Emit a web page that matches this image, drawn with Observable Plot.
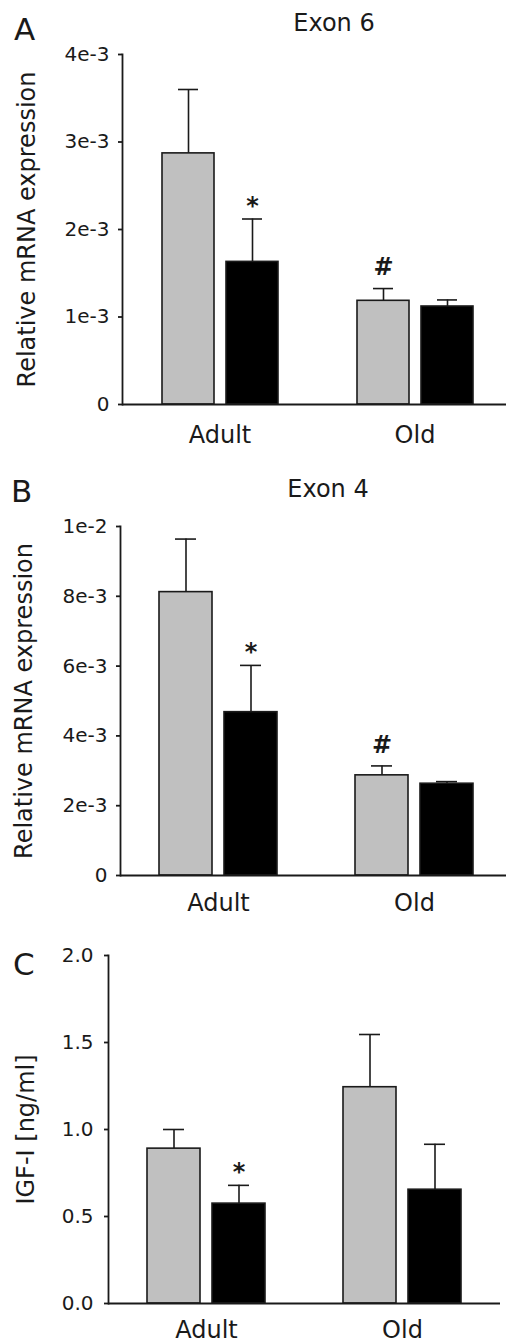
<!DOCTYPE html>
<html><head><meta charset="utf-8">
<script src="https://cdn.jsdelivr.net/npm/d3@7"></script>
<script src="https://cdn.jsdelivr.net/npm/@observablehq/plot@0.6"></script>
<style>
html,body{margin:0;padding:0;background:#fff;overflow:hidden;width:506px;height:1343px;}
.panel{position:relative;}
.panel svg{display:block;max-width:none !important;overflow:visible;}
.letter{position:absolute;font-family:"DejaVu Sans";font-size:31px;line-height:1;color:#1a1a1a;white-space:nowrap;}
.title{position:absolute;font-family:"DejaVu Sans";font-size:24px;line-height:1;color:#1a1a1a;transform:translateX(-50%);white-space:nowrap;}
g[aria-label="y-axis label"], g[aria-label="y-axis label"] text{font-size:24px !important;}
g[aria-label="y-axis tick label"], g[aria-label="y-axis tick label"] text{font-size:20px !important;}
g[aria-label="fx-axis tick label"], g[aria-label="fx-axis tick label"] text{font-size:24px !important;}
</style>
</head><body>
<div id="root"></div>
<script>
// ---- shared categories ----
const groups = ["Adult", "Old"];
const conditions = ["Control", "Treated"];
// bar order: Adult-Control, Adult-Treated, Old-Control, Old-Treated
const barGroups = ["Adult", "Adult", "Old", "Old"];
const barConditions = ["Control", "Treated", "Control", "Treated"];

// ---- Panel A: Exon 6 ----
const exon6Mean = [2.87e-3, 1.63e-3, 1.185e-3, 1.12e-3];
const exon6Sem  = [0.73e-3, 0.49e-3, 0.14e-3, 0.075e-3];
const exon6Sign = ["", "*", "#", ""];
const exon6Ticks = [0, 1e-3, 2e-3, 3e-3, 4e-3];
const exon6TickLabels = ["0", "1e-3", "2e-3", "3e-3", "4e-3"];

// ---- Panel B: Exon 4 ----
const exon4Mean = [8.12e-3, 4.68e-3, 2.87e-3, 2.63e-3];
const exon4Sem  = [1.52e-3, 1.34e-3, 0.27e-3, 0.06e-3];
const exon4Sign = ["", "*", "#", ""];
const exon4Ticks = [0, 2e-3, 4e-3, 6e-3, 8e-3, 1e-2];
const exon4TickLabels = ["0", "2e-3", "4e-3", "6e-3", "8e-3", "1e-2"];

// ---- Panel C: IGF-I ----
const igfMean = [0.89, 0.574, 1.243, 0.654];
const igfSem  = [0.11, 0.105, 0.303, 0.261];
const igfSign = ["", "*", "", ""];
const igfTicks = [0, 0.5, 1.0, 1.5, 2.0];
const igfTickLabels = ["0.0", "0.5", "1.0", "1.5", "2.0"];

const INK = "#1a1a1a";

function rowsOf(means, sems, signs) {
  return means.map((m, i) => ({
    group: barGroups[i], cond: barConditions[i], mean: m, top: m + sems[i], sign: signs[i]
  }));
}

function panel(o) {
  const rows = rowsOf(o.means, o.sems, o.signs);
  const fmt = new Map(o.ticks.map((t, i) => [t, o.tickLabels[i]]));
  return Plot.plot({
    width: o.width, height: o.height,
    marginTop: o.marginTop, marginBottom: o.marginBottom,
    marginLeft: o.marginLeft, marginRight: 0,
    style: {fontFamily: "DejaVu Sans", fontSize: "20px", color: INK, background: "transparent", maxWidth: "none", overflow: "visible"},
    fx: {domain: groups, padding: 0, label: null, axis: null},
    x: {domain: conditions, paddingInner: 0.19, paddingOuter: 0.6, axis: null},
    y: {domain: [0, o.yMax], axis: null},
    color: {domain: conditions, range: ["#c0c0c0", "#000000"]},
    marks: [
      Plot.axisY({ticks: o.ticks, tickFormat: d => fmt.get(d), tickSize: 4, tickPadding: o.tickPadding,
        fontSize: 20, strokeWidth: 1.8, label: o.yLabel, labelArrow: "none",
        labelAnchor: "center", labelOffset: o.labelOffset}),
      Plot.axisFx({anchor: "bottom", tickSize: 0, tickPadding: o.fxPadding, fontSize: 24, label: null}),
      Plot.frame({anchor: "left", facetAnchor: "left", stroke: INK, strokeWidth: 1.8}),
      Plot.ruleX(rows, {fx: "group", x: "cond", y1: "mean", y2: "top", stroke: INK, strokeWidth: 1.6}),
      Plot.tickY(rows, {fx: "group", x: "cond", y: "top", insetLeft: 16, insetRight: 16, stroke: INK, strokeWidth: 1.6}),
      Plot.barY(rows, {fx: "group", x: "cond", y: "mean", fill: "cond", stroke: INK, strokeWidth: 1.6}),
      Plot.ruleY([0], {stroke: INK, strokeWidth: 2}),
      Plot.text(rows.filter(d => d.sign === "*"), {fx: "group", x: "cond", y: "top", text: "sign",
        dy: -13, fontSize: 24, fontWeight: "bold", fill: INK}),
      Plot.text(rows.filter(d => d.sign === "#"), {fx: "group", x: "cond", y: "top", text: "sign",
        dy: -21, fontSize: 24, fontWeight: "bold", fill: INK})
    ]
  });
}

const specs = [
  {letter: "A", title: "Exon 6", letterPos: [14, 14.4], titlePos: [334, 11.2],
   means: exon6Mean, sems: exon6Sem, signs: exon6Sign, ticks: exon6Ticks, tickLabels: exon6TickLabels,
   yMax: 4e-3, yLabel: "Relative mRNA expression", width: 512, height: 455,
   marginTop: 54, marginBottom: 51, marginLeft: 121, labelOffset: 105, tickPadding: 9, fxPadding: 21},
  {letter: "B", title: "Exon 4", letterPos: [11, 21.4], titlePos: [328, 22.2],
   means: exon4Mean, sems: exon4Sem, signs: exon4Sign, ticks: exon4Ticks, tickLabels: exon4TickLabels,
   yMax: 1e-2, yLabel: "Relative mRNA expression", width: 512, height: 472,
   marginTop: 71, marginBottom: 52, marginLeft: 119, labelOffset: 106, tickPadding: 9, fxPadding: 18},
  {letter: "C", title: null, letterPos: [13, 22.4], titlePos: null,
   means: igfMean, sems: igfSem, signs: igfSign, ticks: igfTicks, tickLabels: igfTickLabels,
   yMax: 2, yLabel: "IGF-I [ng/ml]", width: 500, height: 416,
   marginTop: 28, marginBottom: 40, marginLeft: 107, labelOffset: 92, tickPadding: 11, fxPadding: 17}
];

const root = document.getElementById("root");
for (const s of specs) {
  const div = document.createElement("div");
  div.className = "panel";
  div.style.height = s.height + "px";
  div.appendChild(panel(s));
  const l = document.createElement("div");
  l.className = "letter"; l.textContent = s.letter;
  l.style.left = s.letterPos[0] + "px"; l.style.top = s.letterPos[1] + "px";
  div.appendChild(l);
  if (s.title) {
    const t = document.createElement("div");
    t.className = "title"; t.textContent = s.title;
    t.style.left = s.titlePos[0] + "px"; t.style.top = s.titlePos[1] + "px";
    div.appendChild(t);
  }
  root.appendChild(div);
}
</script>
</body></html>
